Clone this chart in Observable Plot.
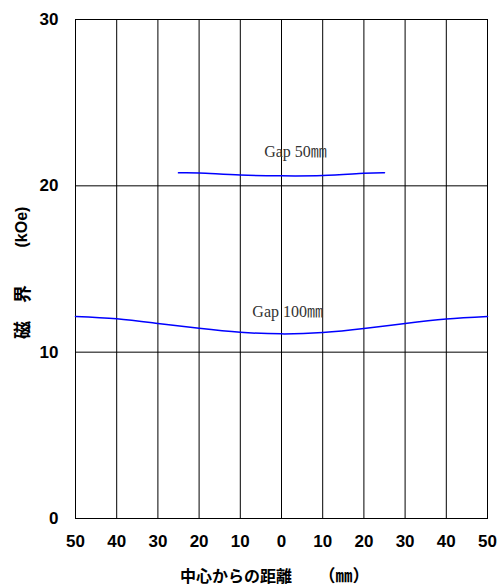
<!DOCTYPE html>
<html><head><meta charset="utf-8">
<script src="https://cdn.jsdelivr.net/npm/d3@7"></script>
<script src="https://cdn.jsdelivr.net/npm/@observablehq/plot@0.6"></script>
<style>body{margin:0;background:#fff}</style>
</head><body><div id="chart"></div>
<script>
const gap50X = [-25, -20, -10, 0, 10, 20, 25];
const gap50Y = [20.78, 20.77, 20.65, 20.6, 20.62, 20.75, 20.78];
const gap100X = [-50, -40, -30, -20, -10, 0, 10, 20, 30, 40, 50];
const gap100Y = [12.15, 12.01, 11.73, 11.44, 11.2, 11.1, 11.18, 11.42, 11.73, 12.0, 12.15];
const xTicks = [-50, -40, -30, -20, -10, 0, 10, 20, 30, 40, 50];
const yTicks = [0, 10, 20, 30];
const labels = [
  {x: 3.4, y: 22.05, text: "Gap 50㎜"},
  {x: 1.5, y: 12.45, text: "Gap 100㎜"}
];
const xTitle = "中心からの距離";
const xTitleUnit = "（㎜）";
const yTitleParts = ["磁", "界", "(kOe)"];

const d50 = gap50X.map((x, i) => ({x, y: gap50Y[i]}));
const d100 = gap100X.map((x, i) => ({x, y: gap100Y[i]}));

const chart = Plot.plot({
  width: 499, height: 587,
  marginLeft: 75, marginRight: 12, marginTop: 19, marginBottom: 69,
  style: {fontFamily: "'Liberation Sans', Arial, sans-serif", background: "#fff"},
  x: {domain: [-50, 50], ticks: xTicks, tickFormat: d => Math.abs(d), label: null},
  y: {domain: [0, 30], ticks: yTicks, label: null},
  marks: [
    Plot.ruleX(xTicks, {stroke: "#000", strokeWidth: 1}),
    Plot.ruleY(yTicks, {stroke: "#000", strokeWidth: 1}),
    Plot.frame({stroke: "#000"}),
    Plot.axisX({ticks: xTicks, tickFormat: d => Math.abs(d), tickSize: 0, tickPadding: 16, fontSize: 17, fontWeight: "bold", fill: "#000", label: null}),
    Plot.axisY({ticks: yTicks, tickSize: 0, tickPadding: 17, fontSize: 17, fontWeight: "bold", fill: "#000", label: null}),
    Plot.line(d50, {x: "x", y: "y", curve: "natural", stroke: "#0000ff", strokeWidth: 1.5}),
    Plot.line(d100, {x: "x", y: "y", curve: "natural", stroke: "#0000ff", strokeWidth: 1.5}),
    Plot.text(labels, {x: "x", y: "y", text: "text", fontSize: 16, fill: "#333", fontFamily: "'Liberation Serif', 'Noto Sans CJK JP', serif"})
  ]
});
document.getElementById("chart").appendChild(chart);
const svg = d3.select(chart);
const cjk = "'Noto Sans CJK JP', sans-serif";
svg.append("text").attr("x", 236).attr("y", 582).attr("text-anchor", "middle")
  .attr("font-family", cjk).attr("font-size", 16).attr("font-weight", "bold")
  .attr("fill", "#000").text(xTitle);
svg.append("text").attr("x", 344).attr("y", 582).attr("text-anchor", "middle")
  .attr("font-family", cjk).attr("font-size", 17).attr("font-weight", "bold")
  .attr("fill", "#000").text(xTitleUnit);
const yPos = [330, 294, 227];
yTitleParts.forEach((t, i) => {
  svg.append("text").attr("transform", `translate(21,${yPos[i]}) rotate(-90)`)
    .attr("text-anchor", "middle").attr("dominant-baseline", "central")
    .attr("font-family", i < 2 ? cjk : "'Liberation Sans', Arial, sans-serif")
    .attr("font-size", i < 2 ? 18 : 16).attr("font-weight", "bold").attr("fill", "#000").text(t);
});
</script>
</body></html>
